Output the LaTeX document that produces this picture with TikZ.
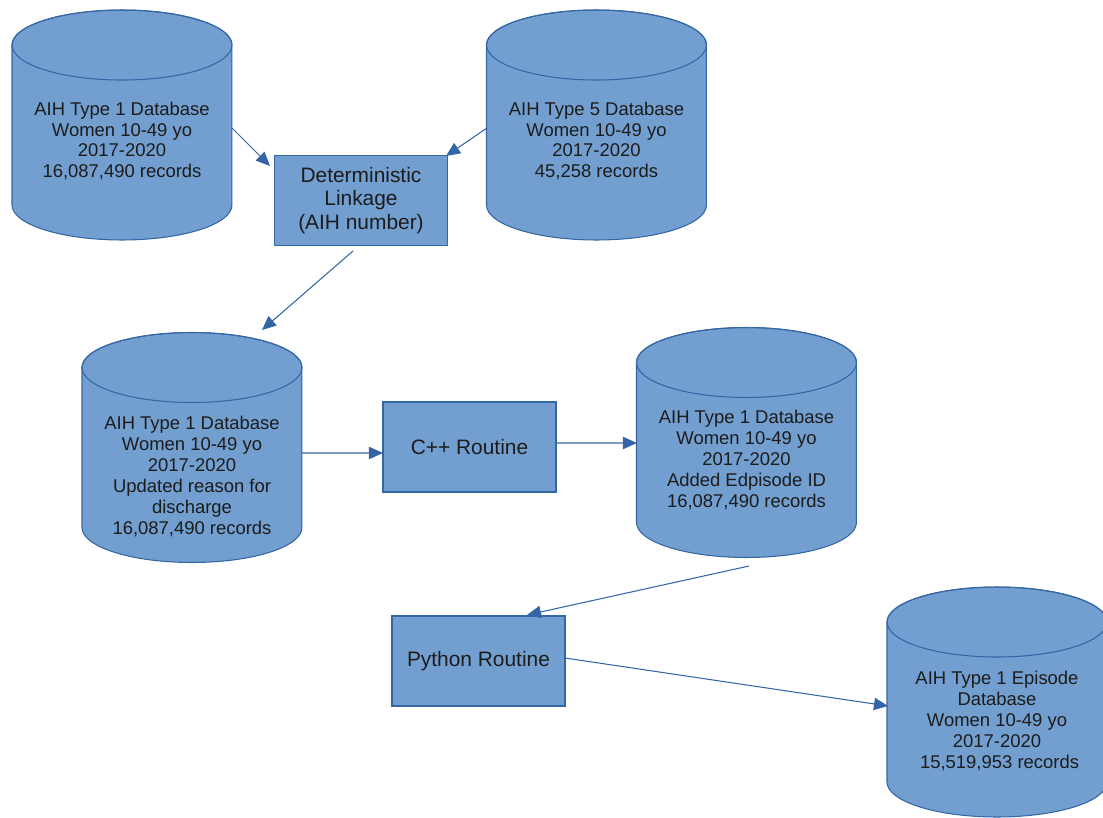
\documentclass[tikz,border=0pt]{standalone}
\usepackage{fontspec}
\setmainfont{Liberation Sans}
\usetikzlibrary{calc,arrows.meta}
\definecolor{dbfill}{HTML}{729FCF}
\definecolor{dbline}{HTML}{3465A4}
\definecolor{txt}{HTML}{1C1C1C}
\begin{document}
\begin{tikzpicture}[x=0.02cm,y=-0.02cm,
		db/.style = {rectangle,minimum width=4.5cm,minimum height=4.7cm,inner sep=0pt,
			path picture={
				\path[fill=dbfill,draw=dbline,line width=0.6pt]
					([shift={(-110,-80)}]path picture bounding box.center) -- ++(0,160)
					arc[start angle=180,end angle=360,x radius=2.2cm,y radius=0.7cm] -- ++(0,-160)
					arc[start angle=0,end angle=180,x radius=2.2cm,y radius=0.7cm] -- cycle;
				\draw[dbline,line width=0.6pt] ([yshift=1.6cm]path picture bounding box.center)
					ellipse [x radius=2.2cm,y radius=0.7cm];
			}},
		dbtext/.style = {align=center,text=txt,font=\fontsize{10.5}{11.9}\selectfont,inner sep=0pt},
		proc/.style = {rectangle,draw=dbline,fill=dbfill,line width=0.6pt,align=center,
			text=txt,font=\fontsize{11.9}{13.3}\selectfont,
			minimum width=3.46cm,minimum height=1.8cm,inner sep=0pt},
		flow/.style = {draw=dbline,line width=0.6pt,-{Triangle[length=8pt,width=7pt]}}]
			\useasboundingbox (0,0) rectangle (1103,818);
			% databases
			\node[db] at (122,125) (t1) {};
			\node[db] at (596.5,125) (t5) {};
			\node[db] at (192,447.5) (upd) {};
			\node[db] at (746.5,442.5) (epi) {};
			\node[db] at (997,702) (epidb) {};
			\node[dbtext] at ($(t1)+(0,16)$) (t1txt) {AIH Type 1 Database\\ Women 10-49 yo\\ 2017-2020\\ 16,087,490 records};
			\node[dbtext] at ($(t5)+(0,16)$) (t5txt) {AIH Type 5 Database\\ Women 10-49 yo\\ 2017-2020\\ 45,258 records};
			\node[dbtext] at ($(upd)+(0,29)$) (updtxt) {AIH Type 1 Database\\ Women 10-49 yo\\ 2017-2020\\ Updated reason for\\ discharge\\ 16,087,490 records};
			\node[dbtext] at ($(epi)+(0,17.5)$) (epitxt) {AIH Type 1 Database\\ Women 10-49 yo\\ 2017-2020\\ Added Edpisode ID\\ 16,087,490 records};
			\node[dbtext] at ($(epidb)+(0,19)$) (epidbtxt) {AIH Type 1 Episode\\ Database\\ Women 10-49 yo\\ 2017-2020\\ \ 15,519,953 records};
			% routines
			\node[proc] at (361,200.5) (link) {Deterministic\\ Linkage\\ (AIH number)};
			\node[proc] at (469.5,447) (cpp) {C++ Routine};
			\node[proc] at (478.5,661) (py) {Python Routine};
			% flow
			\draw[flow] ($(t1.center)+(110,3)$) -- ($(link.center)+(-91,-34.5)$);
			\draw[flow] ($(t5.center)+(-109.5,3)$) -- ($(link.center)+(85,-44.5)$);
			\draw[flow] ($(link.center)+(-8,50.5)$) -- ($(upd.center)+(70,-117.5)$);
			\draw[flow] ($(upd.center)+(110,5.5)$) -- ($(cpp.center)+(-86.5,6)$);
			\draw[flow] ($(cpp.center)+(86.5,-4)$) -- ($(epi.center)+(-109.5,0.5)$);
			\draw[flow] ($(epi.center)+(2.5,123.5)$) -- ($(py.center)+(48.5,-46)$);
			\draw[flow] ($(py.center)+(86.5,-3)$) -- ($(epidb.center)+(-109,4)$);
		\end{tikzpicture}
\end{document}
